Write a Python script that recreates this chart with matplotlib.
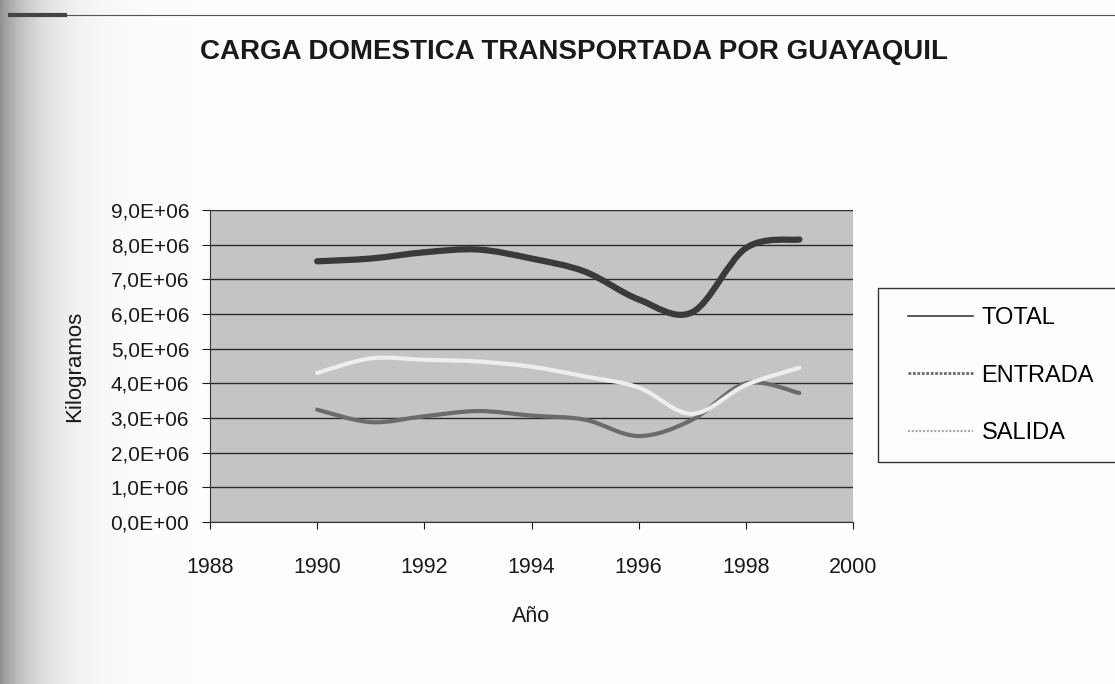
import numpy as np
import matplotlib
matplotlib.use("Agg")
import matplotlib.pyplot as plt
from matplotlib.path import Path
from matplotlib.patches import PathPatch, Rectangle
from matplotlib.lines import Line2D
from matplotlib.ticker import FuncFormatter, MultipleLocator

plt.rcParams['font.family'] = ['Liberation Sans', 'DejaVu Sans']

# data (kg)
years = [1990, 1991, 1992, 1993, 1994, 1995, 1996, 1997, 1998, 1999]
total = [7.52e6, 7.60e6, 7.78e6, 7.86e6, 7.60e6, 7.22e6, 6.42e6, 6.05e6, 7.90e6, 8.15e6]
entrada = [3.24e6, 2.88e6, 3.05e6, 3.20e6, 3.07e6, 2.95e6, 2.48e6, 2.95e6, 4.00e6, 3.72e6]
salida = [4.30e6, 4.72e6, 4.68e6, 4.63e6, 4.48e6, 4.20e6, 3.88e6, 3.12e6, 3.95e6, 4.45e6]
series_names = ['TOTAL', 'ENTRADA', 'SALIDA']

title = "CARGA DOMESTICA TRANSPORTADA POR GUAYAQUIL"


def smooth_path(xs, ys):
    # excel style smoothed line: cubic bezier through every point
    pts = np.column_stack([xs, ys]).astype(float)
    ext = np.vstack([pts[0], pts, pts[-1]])
    verts = [pts[0]]
    codes = [Path.MOVETO]
    for i in range(len(pts) - 1):
        p0, p1, p2, p3 = ext[i], ext[i + 1], ext[i + 2], ext[i + 3]
        c1 = p1 + (p2 - p0) / 6.0
        c2 = p2 - (p3 - p1) / 6.0
        verts += [c1, c2, p2]
        codes += [Path.CURVE4] * 3
    return Path(verts, codes)


fig = plt.figure(figsize=(11.15, 6.84), dpi=100)

# scanned page: darker left margin fading to white
bg = fig.add_axes([0, 0, 1, 1], zorder=-10)
grad = np.linspace(0, 1, 1115)
shade = 0.99 - 0.42 * np.exp(-grad * 1115 / 35.0)
bg.imshow(np.tile(shade, (10, 1)), aspect='auto', cmap='gray', vmin=0, vmax=1,
          extent=[0, 1, 0, 1])
bg.set_axis_off()
fig.add_artist(Line2D([10 / 1115, 1], [1 - 15 / 684] * 2, color='#555555', lw=0.8))
fig.add_artist(Line2D([10 / 1115, 65 / 1115], [1 - 15 / 684] * 2, color='#444444', lw=3))

ax = fig.add_axes([210 / 1115, 1 - 522 / 684, 643 / 1115, 312 / 684])
ax.set_facecolor('#c4c4c4')

styles = [('#3a3a3a', 4.5), ('#6b6b6b', 3.0), ('#eeeeee', 3.0)]
for vals, (col, lw) in zip([total, entrada, salida], styles):
    ax.add_patch(PathPatch(smooth_path(years, vals), fill=False, edgecolor=col,
                           lw=lw, capstyle='round', joinstyle='round', zorder=3))

ax.set_xlim(1988, 2000)
ax.set_ylim(0, 9e6)
ax.xaxis.set_major_locator(MultipleLocator(2))
ax.yaxis.set_major_locator(MultipleLocator(1e6))
ax.yaxis.set_major_formatter(FuncFormatter(lambda v, p: f"{v:.1E}".replace('.', ',')))
ax.grid(axis='y', color='#2a2a2a', lw=1.0)
ax.set_axisbelow(True)
for s in ['top', 'right']:
    ax.spines[s].set_visible(False)
ax.spines['left'].set_color('#333333')
ax.spines['bottom'].set_color('#333333')
ax.tick_params(axis='y', length=6, pad=9, labelsize=15, colors='#1a1a1a')
ax.tick_params(axis='x', length=5, pad=20, labelsize=15.5, colors='#1a1a1a')

ax.set_xlabel("Año", fontsize=15.5, labelpad=20, color='#1a1a1a')
ax.set_ylabel("Kilogramos", fontsize=16, labelpad=18, color='#1a1a1a')

fig.text(574 / 1115, 1 - 52 / 684, title, ha='center', va='center',
         fontsize=20, fontweight='bold', color='#1a1a1a')

# legend box runs off the right edge of the page
fig.add_artist(Rectangle((878 / 1115, 1 - 462 / 684), 0.3, 174 / 684,
                         transform=fig.transFigure, fill=False,
                         edgecolor='#333333', lw=1))
handles = [Line2D([], [], color='#3c3c3c', lw=1.2),
           Line2D([], [], color='#6b6b6b', lw=2.0, ls=(0, (1, 0.6))),
           Line2D([], [], color='#aaaaaa', lw=1.5, ls=(0, (1, 0.8)))]
fig.legend(handles, series_names, loc='upper left',
           bbox_to_anchor=(887 / 1115, 1 - 286 / 684), frameon=False,
           fontsize=17, handlelength=2.75, handletextpad=0.35, labelspacing=1.5)

fig.savefig("out.png", dpi=100)
